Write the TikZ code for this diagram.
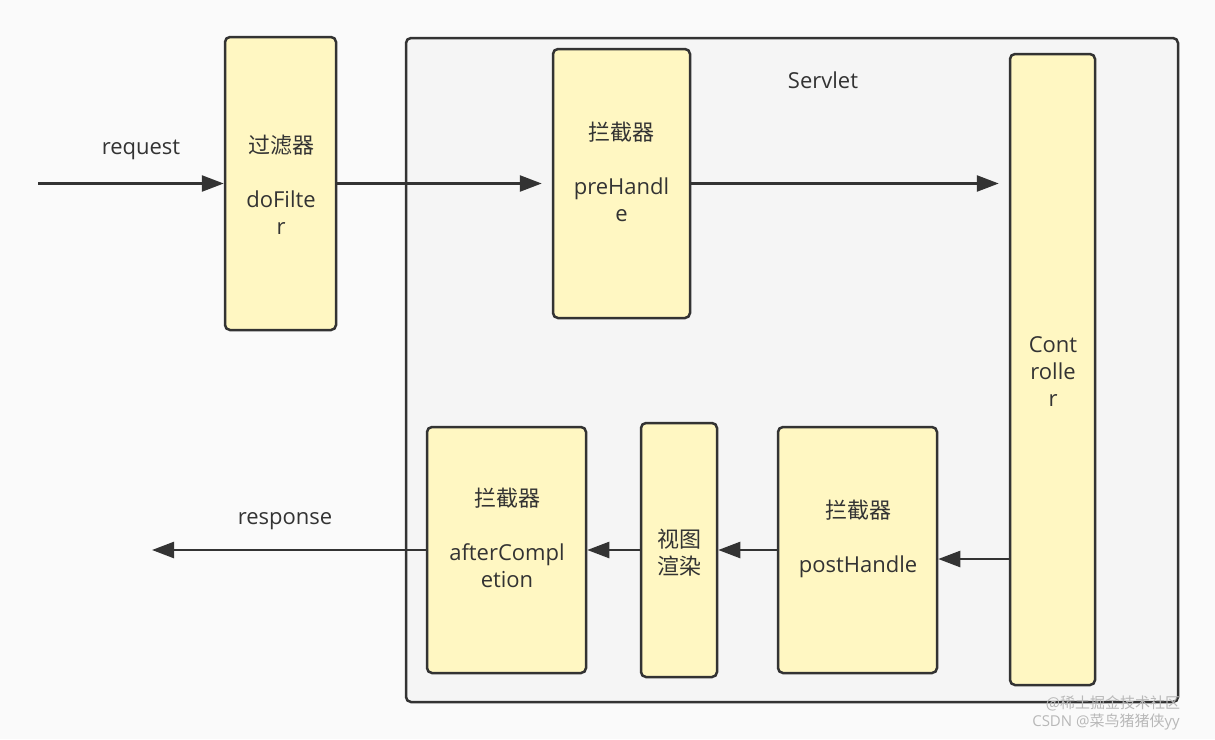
\documentclass[tikz,border=0pt]{standalone}
\usepackage{fontspec}
\setmainfont{Open Sans}
\newfontfamily\cjk{Noto Sans CJK SC}
\usetikzlibrary{arrows.meta}
\definecolor{bg}{HTML}{FAFAFA}
\definecolor{servletbg}{HTML}{F5F5F5}
\definecolor{boxfill}{HTML}{FFF7C2}
\definecolor{edge}{HTML}{333333}
\definecolor{txt}{HTML}{333333}
\definecolor{wm}{HTML}{B8B8B8}
\tikzset{
  ybox/.style={draw=edge, fill=boxfill, line width=2.5pt, rounded corners=5pt, inner sep=0pt},
  container/.style={draw=edge, fill=servletbg, line width=2.5pt, rounded corners=5pt, inner sep=0pt},
  lbl/.style={text=txt, inner sep=0pt, align=center, font=\fontsize{22}{27}\selectfont},
  arr/.style={draw=edge, line width=2.5pt, -{Triangle[length=22pt,width=16pt]}},
  wmark/.style={text=wm, inner sep=0pt, font=\fontsize{15}{18}\selectfont},
}
\begin{document}
\begin{tikzpicture}[x=1pt,y=-1pt]
\path[fill=bg] (0,0) rectangle (1215,739);
\useasboundingbox (0,0) rectangle (1215,739);

% Servlet container
\node[container, minimum width=772pt, minimum height=664pt] (servlet) at (792,370) {};
\node[lbl] (servletT) at (823,80) {Servlet};

% boxes
\node[ybox, minimum width=111pt, minimum height=293pt] (filter) at (280.5,183.5) {};
\node[ybox, minimum width=137pt, minimum height=269pt] (pre) at (621.5,183.5) {};
\node[ybox, minimum width=85pt, minimum height=631pt] (ctrl) at (1052.5,369.5) {};
\node[ybox, minimum width=159pt, minimum height=246pt] (after) at (506.5,550) {};
\node[ybox, minimum width=76pt, minimum height=254pt] (view) at (679,550) {};
\node[ybox, minimum width=159pt, minimum height=246pt] (post) at (857.5,550) {};

% box texts
\node[lbl] (filterT) at (281,185) {{\cjk 过滤器}\\[27pt]doFilte\\r};
\node[lbl] (preT) at (621.5,171.5) {{\cjk 拦截器}\\[27pt]preHandl\\e};
\node[lbl] (ctrlT) at (1053,371.5) {Cont\\rolle\\r};
\node[lbl] (afterT) at (507,537.5) {{\cjk 拦截器}\\[27pt]afterCompl\\etion};
\node[lbl] (viewT) at (679,553) {{\cjk 视图}\\{\cjk 渲染}};
\node[lbl] (postT) at (858,538.5) {{\cjk 拦截器}\\[27pt]postHandle};

% free ends
\coordinate (req) at (38,183.5);
\coordinate (resp) at (152,550);

% labels
\node[lbl] (reqT) at (141,150) {request};
\node[lbl] (respT) at (285,521) {response};

% connectors
\draw[arr] (req) -- (filter.west);
\draw[arr, shorten >=10pt] (filter.east) -- (pre.west);
\draw[arr, shorten >=10pt] (pre.east) -- (pre.east -| ctrl.west);
\draw[arr] ([yshift=-9pt]post.east -| ctrl.west) -- ([yshift=-9pt]post.east);
\draw[arr] (post.west) -- (view.east);
\draw[arr] (view.west) -- (after.east);
\draw[arr] (after.west) -- (resp);

% watermark
\node[wmark] (wm1) at (1113,703) {{\cjk @稀土掘金技术社区}};
\node[wmark] (wm2) at (1106,722) {CSDN @{\cjk 菜鸟猪猪侠}yy};
\end{tikzpicture}
\end{document}
